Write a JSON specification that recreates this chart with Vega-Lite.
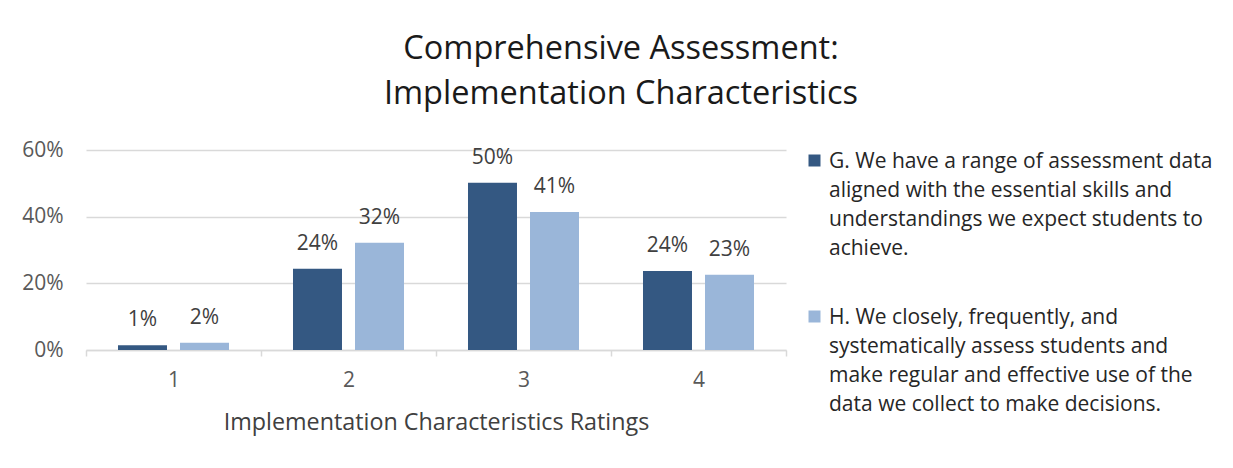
{
  "$schema": "https://vega.github.io/schema/vega-lite/v6.json",
  "autosize": {"type": "none"},
  "padding": {"left": 86, "top": 150, "right": 447, "bottom": 118},
  "width": 700,
  "height": 200,
  "background": "white",
  "title": {
    "text": ["Comprehensive Assessment:", "Implementation Characteristics"],
    "font": "Open Sans",
    "fontSize": 32.5,
    "fontWeight": "normal",
    "color": "#1a1a1a",
    "lineHeight": 45,
    "anchor": "middle",
    "frame": "group",
    "dx": 185,
    "offset": 29
  },
  "config": {
    "font": "Open Sans",
    "view": {"stroke": null},
    "style": {"guide-label": {"lineHeight": 29.3, "dy": -10}}
  },
  "data": {
    "values": [
      {"rating": "1", "series": "G. We have a range of assessment data\naligned with the essential skills and\nunderstandings we expect students to\nachieve.", "value": 0.014},
      {"rating": "2", "series": "G. We have a range of assessment data\naligned with the essential skills and\nunderstandings we expect students to\nachieve.", "value": 0.244},
      {"rating": "3", "series": "G. We have a range of assessment data\naligned with the essential skills and\nunderstandings we expect students to\nachieve.", "value": 0.502},
      {"rating": "4", "series": "G. We have a range of assessment data\naligned with the essential skills and\nunderstandings we expect students to\nachieve.", "value": 0.237},
      {"rating": "1", "series": "H. We closely, frequently, and\nsystematically assess students and\nmake regular and effective use of the\ndata we collect to make decisions.", "value": 0.022},
      {"rating": "2", "series": "H. We closely, frequently, and\nsystematically assess students and\nmake regular and effective use of the\ndata we collect to make decisions.", "value": 0.322},
      {"rating": "3", "series": "H. We closely, frequently, and\nsystematically assess students and\nmake regular and effective use of the\ndata we collect to make decisions.", "value": 0.414},
      {"rating": "4", "series": "H. We closely, frequently, and\nsystematically assess students and\nmake regular and effective use of the\ndata we collect to make decisions.", "value": 0.226}
    ]
  },
  "encoding": {
    "x": {
      "field": "rating",
      "type": "ordinal",
      "scale": {"paddingInner": 0, "paddingOuter": 0},
      "axis": {
        "title": "Implementation Characteristics Ratings",
        "titleFont": "Open Sans",
        "titleFontSize": 23.3,
        "titleFontWeight": "normal",
        "titleColor": "#404040",
        "titlePadding": 21,
        "labelAngle": 0,
        "labelFontSize": 21,
        "labelColor": "#595959",
        "labelPadding": 23,
        "tickBand": "extent",
        "ticks": true,
        "tickSize": 6,
        "tickColor": "#d9d9d9",
        "tickWidth": 1.5,
        "domainColor": "#d9d9d9",
        "domainWidth": 1.5
      }
    },
    "xOffset": {
      "field": "series",
      "type": "nominal",
      "scale": {"paddingInner": 0.21, "paddingOuter": 0.516}
    },
    "y": {
      "field": "value",
      "type": "quantitative",
      "scale": {"domain": [0, 0.6], "nice": false},
      "axis": {
        "title": null,
        "values": [0, 0.2, 0.4, 0.6],
        "format": ".0%",
        "domain": false,
        "ticks": false,
        "labelFontSize": 21,
        "labelColor": "#595959",
        "labelPadding": 23,
        "labelOffset": 10,
        "gridColor": "#d9d9d9",
        "gridWidth": 1.5
      }
    }
  },
  "layer": [
    {
      "mark": {"type": "bar"},
      "encoding": {
        "color": {
          "field": "series",
          "type": "nominal",
          "scale": {"range": ["#345882", "#9ab6d9"]},
          "legend": {
            "title": null,
            "orient": "none",
            "legendX": 718,
            "legendY": 0,
            "symbolType": "square",
            "symbolSize": 144,
            "symbolStrokeWidth": 0,
            "labelFontSize": 21,
            "labelColor": "#262626",
            "labelFont": "Open Sans",
            "labelLimit": 500,
            "labelOffset": 4,
            "labelBaseline": "top",
            "rowPadding": 46,
            "labelExpr": "split(datum.label, '\\n')"
          }
        }
      }
    },
    {
      "mark": {"type": "text", "baseline": "middle", "dy": -25, "fontSize": 21, "color": "#404040", "font": "Open Sans"},
      "encoding": {
        "text": {"field": "value", "type": "quantitative", "format": ".0%"}
      }
    }
  ]
}
